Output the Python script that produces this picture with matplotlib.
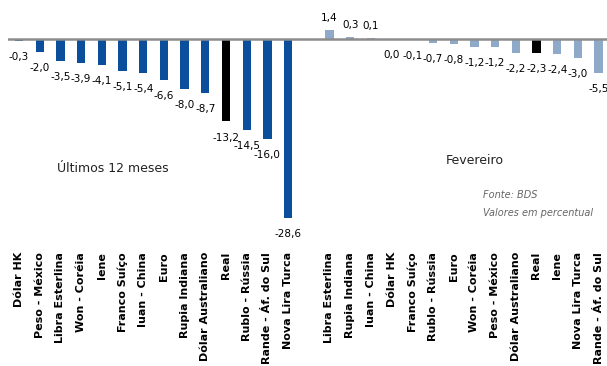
import matplotlib
matplotlib.use("Agg")
import matplotlib.pyplot as plt
import numpy as np

left_categories = ["Dólar HK", "Peso - México", "Libra Esterlina", "Won - Coréia", "Iene",
                   "Franco Suíço", "Iuan - China", "Euro", "Rupia Indiana", "Dólar Australiano",
                   "Real", "Rublo - Rússia", "Rande - Áf. do Sul", "Nova Lira Turca"]
left_values = [-0.3, -2.0, -3.5, -3.9, -4.1, -5.1, -5.4, -6.6, -8.0, -8.7, -13.2, -14.5, -16.0, -28.6]

right_categories = ["Libra Esterlina", "Rupia Indiana", "Iuan - China", "Dólar HK", "Franco Suíço",
                    "Rublo - Rússia", "Euro", "Won - Coréia", "Peso - México", "Dólar Australiano",
                    "Real", "Iene", "Nova Lira Turca", "Rande - Áf. do Sul"]
right_values = [1.4, 0.3, 0.1, 0.0, -0.1, -0.7, -0.8, -1.2, -1.2, -2.2, -2.3, -2.4, -3.0, -5.5]

left_title = "Últimos 12 meses"
right_title = "Fevereiro"
source_lines = ["Fonte: BDS", "Valores em percentual"]

W, H = 607, 366
fig = plt.figure(figsize=(W / 100, H / 100), dpi=100)
# axes in pixel geometry
ax_left_px, ax_right_px = 8, 607
ax_top_px, ax_bot_px = 0, 238
ax = fig.add_axes([ax_left_px / W, 1 - ax_bot_px / H, (ax_right_px - ax_left_px) / W, (ax_bot_px - ax_top_px) / H])

spacing = 20.7
x0_px = 19
xl = (ax_left_px - x0_px) / spacing
xr = xl + (ax_right_px - ax_left_px) / spacing
ax.set_xlim(xl, xr)
zero_px = 39
ppu = 6.25
ax.set_ylim(-(ax_bot_px - zero_px) / ppu, zero_px / ppu)

dark_blue = "#0B4F9C"
light_blue = "#8FAAC8"

lx = np.arange(len(left_values))
rx = np.arange(len(right_values)) + len(left_values) + 1
lcolors = ["#000000" if c == "Real" else dark_blue for c in left_categories]
rcolors = ["#000000" if c == "Real" else light_blue for c in right_categories]

bw = 0.4
ax.bar(lx, left_values, width=bw, color=lcolors, zorder=2)
ax.bar(rx, right_values, width=bw, color=rcolors, zorder=2)
ax.axhline(0, color="#8c8c8c", lw=1.8, zorder=3)

def fmt(v):
    return f"{v:.1f}".replace(".", ",")

for x, v in list(zip(lx, left_values)) + list(zip(rx, right_values)):
    if v > 0:
        ax.annotate(fmt(v), (x, v), xytext=(0, 5), textcoords="offset points",
                    ha="center", va="bottom", fontsize=7.5)
    else:
        ax.annotate(fmt(v), (x, v), xytext=(0, -8), textcoords="offset points",
                    ha="center", va="top", fontsize=7.5)

ax.set_xticks(list(lx) + list(rx))
ax.set_xticklabels(left_categories + right_categories, rotation=90, fontsize=8,
                   fontweight="bold", va="top", ha="center")
ax.tick_params(axis="x", length=0, pad=10)
ax.set_yticks([])
for s in ax.spines.values():
    s.set_visible(False)

fig.text(113 / W, 1 - 168 / H, left_title, ha="center", va="center", fontsize=9, color="#222222")
fig.text(475 / W, 1 - 160 / H, right_title, ha="center", va="center", fontsize=9, color="#222222")
fig.text(483 / W, 1 - 195 / H, source_lines[0], ha="left", va="center", fontsize=7,
         style="italic", color="#666666")
fig.text(483 / W, 1 - 213 / H, source_lines[1], ha="left", va="center", fontsize=7,
         style="italic", color="#666666")

fig.savefig("out.png", dpi=100)
